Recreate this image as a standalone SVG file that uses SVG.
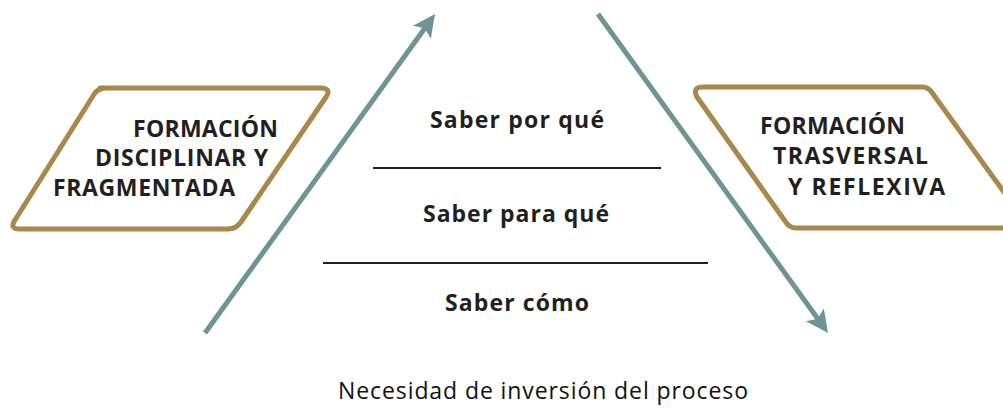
<svg xmlns="http://www.w3.org/2000/svg" width="1003" height="408" viewBox="0 0 1003 408">
<defs>
<style>
.box{fill:#fff;stroke:#A8884B;stroke-width:5;stroke-linejoin:round}
.bt{font-family:"Open Sans","DejaVu Sans",sans-serif;font-weight:bold;font-size:23px;fill:#231F20}
.st{font-family:"Open Sans","DejaVu Sans",sans-serif;font-weight:bold;font-size:23px;fill:#231F20;text-anchor:middle}
.ft{font-family:"Open Sans","DejaVu Sans",sans-serif;font-size:23px;fill:#111;text-anchor:middle}
.arr{stroke:#6E9494;stroke-width:5;fill:none}
.sep{stroke:#231F20;stroke-width:2}
</style>
<marker id="ah" markerWidth="5" markerHeight="5" refX="1" refY="2.2" orient="auto" markerUnits="strokeWidth">
<path d="M0,0 L4.5,2.2 L0,4.4 L1,2.2 z" fill="#6E9494"/>
</marker>
</defs>
<g id="left-box">
<path class="box" d="M100,88 L320,88 Q332,88 326,97 L241,222 Q236,229 228,229 L20,229 Q9,229 15,220 L93,96 Q97,88 106,88 Z"/>
<text class="bt" x="133" y="137" textLength="145">FORMACIÓN</text>
<text class="bt" x="95" y="166" textLength="173">DISCIPLINAR Y</text>
<text class="bt" x="53" y="196" textLength="182">FRAGMENTADA</text>
</g>
<g id="right-box">
<path class="box" d="M703,87 L922,87 Q929,87 933,94 L1030,228 L796,228 Q789,228 785,221 L697,97 Q692,87 703,87 Z"/>
<text class="bt" x="760" y="134" textLength="145">FORMACIÓN</text>
<text class="bt" x="773" y="164" textLength="155">TRASVERSAL</text>
<text class="bt" x="788" y="195" textLength="157">Y REFLEXIVA</text>
</g>
<g id="center">
<text class="st" x="517" y="128" textLength="174">Saber por qué</text>
<text class="st" x="516" y="222" textLength="186">Saber para qué</text>
<text class="st" x="517" y="311" textLength="144">Saber cómo</text>
<line class="sep" x1="373" y1="168" x2="661" y2="168"/>
<line class="sep" x1="323" y1="263" x2="708" y2="263"/>
</g>
<g id="connectors">
<line class="arr" x1="205" y1="333" x2="424.8" y2="28.2" marker-end="url(#ah)"/>
<line class="arr" x1="598" y1="14" x2="817.8" y2="318.8" marker-end="url(#ah)"/>
</g>
<g id="caption">
<text class="ft" x="543" y="399" textLength="410">Necesidad de inversión del proceso</text>
</g>
</svg>
